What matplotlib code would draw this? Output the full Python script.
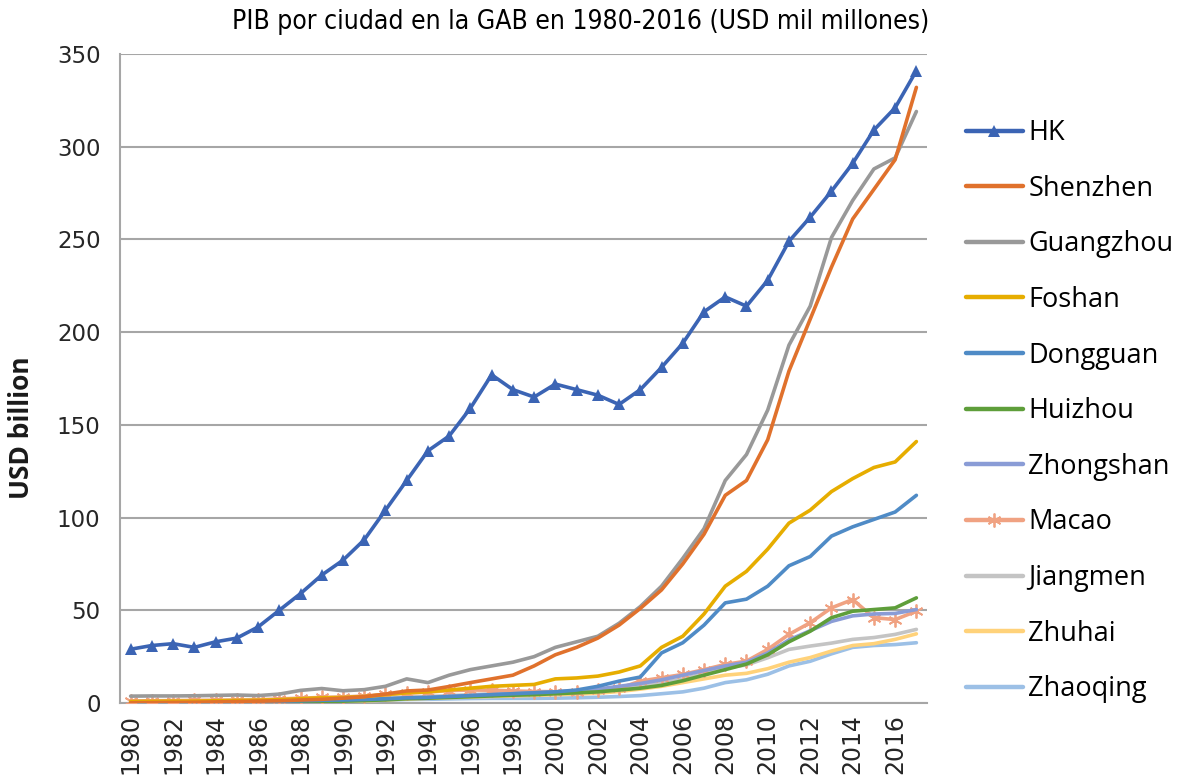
import matplotlib
matplotlib.use("Agg")
import matplotlib.pyplot as plt

years = list(range(1980, 2018))

hk = [29, 31, 32, 30, 33, 35, 41, 50, 59, 69, 77, 88, 104, 120, 136, 144, 159, 177, 169, 165,
      172, 169, 166, 161, 169, 181, 194, 211, 219, 214, 228, 249, 262, 276, 291, 309, 321, 341]
shenzhen = [0.1, 0.2, 0.3, 0.4, 0.6, 0.8, 1.0, 1.2, 1.6, 2.0, 2.6, 3.4, 4.8, 6.5, 7.0, 8.9, 11, 13, 15, 20,
            26, 30, 35, 42, 51, 61, 75, 91, 112, 120, 142, 179, 207, 235, 261, 277, 293, 332]
guangzhou = [3.7, 3.8, 3.8, 3.9, 4.1, 4.3, 4.0, 4.8, 6.8, 7.8, 6.6, 7.2, 9.0, 13, 11, 15, 18, 20, 22, 25,
             30, 33, 36, 43, 52, 63, 78, 94, 120, 134, 158, 193, 214, 251, 271, 288, 294, 319]
foshan = [0.8, 0.9, 1.0, 1.0, 1.2, 1.4, 1.5, 1.8, 2.3, 2.8, 3.0, 3.5, 4.5, 5.5, 6.0, 7.0, 8.0, 9.0, 9.5, 10,
          13, 13.5, 14.5, 16.7, 20, 30, 36, 48, 63, 71, 83, 97, 104, 114, 121, 127, 130, 141]
dongguan = [0.4, 0.4, 0.5, 0.5, 0.6, 0.7, 0.8, 0.9, 1.2, 1.5, 1.6, 1.9, 2.3, 2.8, 3.0, 3.5, 4.0, 4.5, 5.0, 5.5,
            6.0, 7.0, 9.0, 11.8, 14, 27, 32.5, 42, 54, 56, 63, 74, 79, 90, 95, 99, 103, 112]
huizhou = [0.2, 0.2, 0.2, 0.3, 0.3, 0.4, 0.4, 0.5, 0.7, 0.9, 1.0, 1.3, 1.7, 2.3, 2.6, 3.0, 3.4, 3.8, 4.2, 4.5,
           5.0, 5.5, 6.0, 7.0, 8.0, 9.5, 12, 15, 18, 21, 26, 33, 38.7, 46, 49.5, 50.4, 51.3, 56.7]
zhongshan = [0.2, 0.2, 0.3, 0.3, 0.4, 0.4, 0.5, 0.6, 0.8, 1.0, 1.2, 1.5, 2.0, 2.6, 3.0, 3.5, 4.0, 4.5, 5.0, 5.5,
             6.0, 6.5, 7.5, 9.0, 10.5, 12.5, 15, 17.5, 20, 22, 27, 34, 39, 44, 47, 48, 48.3, 50.4]
macao = [1.1, 1.2, 1.3, 1.4, 1.5, 1.6, 1.7, 2.2, 2.6, 3.0, 3.2, 3.8, 4.6, 5.3, 5.9, 6.7, 7.0, 6.9, 6.5, 6.2,
         6.1, 6.2, 6.8, 7.9, 11.8, 13.6, 15.4, 18, 20.8, 22.6, 28.9, 37, 43.3, 51.3, 55.8, 46, 45, 49.5]
jiangmen = [0.4, 0.4, 0.5, 0.5, 0.6, 0.7, 0.8, 0.9, 1.2, 1.5, 1.7, 2.0, 2.5, 3.2, 3.5, 4.0, 4.5, 5.0, 5.3, 5.6,
            6.0, 6.3, 6.8, 7.5, 9.0, 11, 13, 16, 19, 20.5, 24.4, 28.9, 30.7, 32.3, 34.3, 35.3, 37, 39.7]
zhuhai = [0.1, 0.1, 0.1, 0.2, 0.2, 0.3, 0.3, 0.4, 0.6, 0.8, 0.9, 1.1, 1.6, 2.2, 2.5, 2.9, 3.2, 3.5, 3.8, 4.1,
          4.5, 4.8, 5.3, 6.2, 7.5, 9.0, 11, 13, 15, 16, 18.5, 22, 24.5, 28, 31, 32, 34.3, 37.3]
zhaoqing = [0.3, 0.3, 0.3, 0.4, 0.4, 0.5, 0.5, 0.6, 0.8, 0.9, 1.0, 1.2, 1.5, 1.9, 2.0, 2.2, 2.4, 2.5, 2.5, 2.5,
            2.6, 2.8, 3.1, 3.5, 4.0, 5.0, 6.0, 8.0, 11, 12.5, 15.5, 20, 22.5, 26.5, 30, 31, 31.5, 32.5]

series_names = ["HK", "Shenzhen", "Guangzhou", "Foshan", "Dongguan", "Huizhou",
                "Zhongshan", "Macao", "Jiangmen", "Zhuhai", "Zhaoqing"]
series_values = [hk, shenzhen, guangzhou, foshan, dongguan, huizhou,
                 zhongshan, macao, jiangmen, zhuhai, zhaoqing]
colors = ["#3B64B4", "#E0712C", "#999999", "#E6AD00", "#4F8BC6", "#5E9E3A",
          "#8A9CD6", "#F0A282", "#C4C4C4", "#FFD27A", "#9CC0E6"]

xtick_labels = [str(y) for y in range(1980, 2017, 2)]
ytick_values = list(range(0, 351, 50))

body_font = "Open Sans"
tick_font = "DejaVu Sans"

W, H = 1184, 781
fig = plt.figure(figsize=(W / 100, H / 100), dpi=100)
ax = fig.add_axes([120 / W, 1 - 703 / H, (927 - 120) / W, (703 - 54) / H])

lines = {}
for i in list(range(len(series_names)))[::-1]:
    kw = dict(color=colors[i], lw=2.6, solid_capstyle="round", solid_joinstyle="round")
    if series_names[i] == "HK":
        kw.update(marker="^", markersize=8, markeredgewidth=0)
    if series_names[i] == "Macao":
        kw.update(marker=(6, 2, 0), markersize=10, markeredgewidth=1.3,
                  markeredgecolor=colors[i])
    ln, = ax.plot(years, series_values[i], label=series_names[i], zorder=3 + (10 - i) * 0.1, **kw)
    lines[i] = ln

ax.set_xlim(1979.5, 2017.5)
ax.set_ylim(0, 350)
ax.set_yticks(ytick_values)
ax.set_yticklabels([str(v) for v in ytick_values], fontsize=16.5, family=tick_font, color="#262626")
ax.set_xticks(range(1980, 2017, 2))
ax.set_xticklabels(xtick_labels, rotation=90, fontsize=17, family=tick_font, color="#262626")
ax.tick_params(axis="y", length=0, pad=14)
ax.tick_params(axis="x", length=0, pad=8)

ax.grid(axis="y", color="#A6A6A6", lw=1.5)
ax.set_axisbelow(True)
for s in ["top", "right"]:
    ax.spines[s].set_visible(False)
for s in ["left", "bottom"]:
    ax.spines[s].set_color("#A6A6A6")
    ax.spines[s].set_linewidth(1.5)

fig.text(22 / W, 1 - 428 / H, "USD billion", rotation=90, ha="center", va="center",
         fontsize=19, fontweight="bold", family=body_font, color="#1a1a1a")

fig.text(581 / W, 1 - 22 / H, "PIB por ciudad en la GAB en 1980-2016 (USD mil millones)",
         ha="center", va="center", fontsize=19, family="DejaVu Sans", fontstretch="condensed")

handles = [lines[i] for i in range(len(series_names))]
leg = fig.legend(handles, series_names, loc="upper left", bbox_to_anchor=(966 / W, 1 - 119 / H),
                 bbox_transform=fig.transFigure, frameon=False,
                 labelspacing=1.02, handlelength=2.1, handletextpad=0.2,
                 borderpad=0, borderaxespad=0,
                 prop={"family": body_font, "size": 19.5})
for h in leg.legend_handles:
    h.set_linewidth(3.2)

fig.savefig("out.png", dpi=100)
